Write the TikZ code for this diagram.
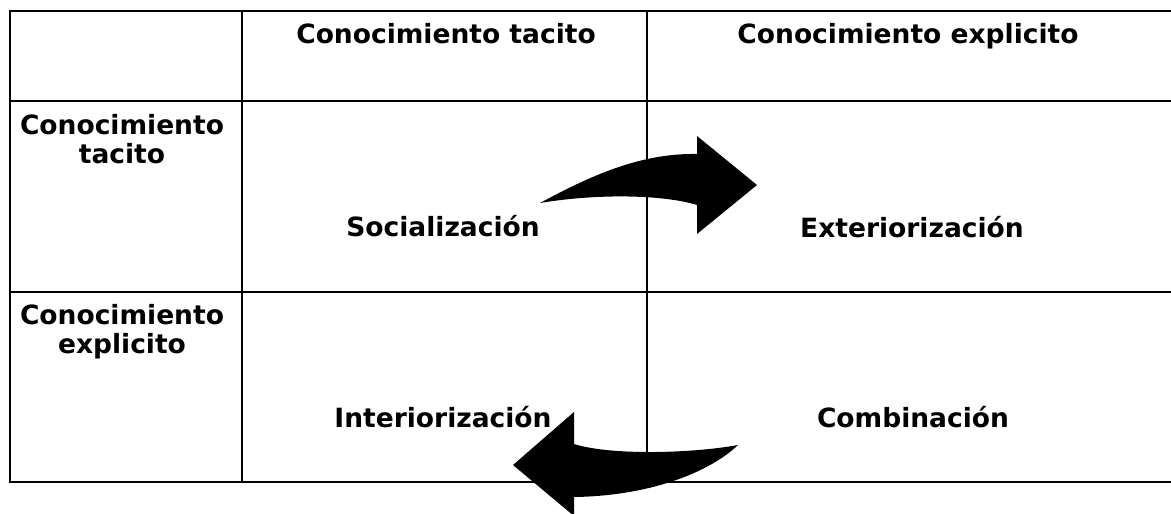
\documentclass[tikz,border=0pt]{standalone}
\usepackage{fontspec}
\setmainfont{DejaVu Sans}
\begin{document}
\begin{tikzpicture}[x=1pt,y=-1pt,
  grid/.style={line width=2pt,line cap=rect},
  thin grid/.style={line width=1.6pt},
  lbl/.style={font=\bfseries\fontsize{26.5}{29}\selectfont,inner sep=0pt,anchor=base},
  rowlbl/.style={font=\bfseries\fontsize{26.5}{29}\selectfont,inner sep=0pt,anchor=north,align=center},
  blockarrow/.style={fill=black,draw=none}]
\useasboundingbox (0,0) rectangle (1171,514);
% grid
\draw[grid] (10,11) -- (1171,11);
\draw[grid] (10,101) -- (1171,101);
\draw[grid] (10,292) -- (1171,292);
\draw[grid] (10,482) -- (1171,482);
\draw[grid] (10,11) -- (10,482);
\draw[thin grid] (242,11) -- (242,482);
\draw[thin grid] (647,11) -- (647,482);
% texts
\node[lbl] (h1) at (446,43) {Conocimiento tacito};
\node[lbl] (h2) at (908,43) {Conocimiento explicito};
\node[rowlbl] (r1) at (122,114) {Conocimiento\\tacito};
\node[rowlbl] (r2) at (122,304) {Conocimiento\\explicito};
\node[lbl] (soc) at (443,236) {Socialización};
\node[lbl] (ext) at (912,237) {Exteriorización};
\node[lbl] (int) at (443,427) {Interiorización};
\node[lbl] (com) at (913,427) {Combinación};
% upper arrow (to the right)
\fill[blockarrow] (540,203) .. controls (590,176) and (640,153) .. (697,154)
  -- (697,136) -- (757,185) -- (697,234) -- (697,205)
  .. controls (665,195) and (600,193) .. cycle;
% lower arrow (to the left)
\fill[blockarrow] (738,445) .. controls (695,453) and (612,456) .. (574,444)
  -- (574,412) -- (513,465) -- (574,516) -- (574,497)
  .. controls (650,496) and (710,472) .. cycle;
\end{tikzpicture}
\end{document}
